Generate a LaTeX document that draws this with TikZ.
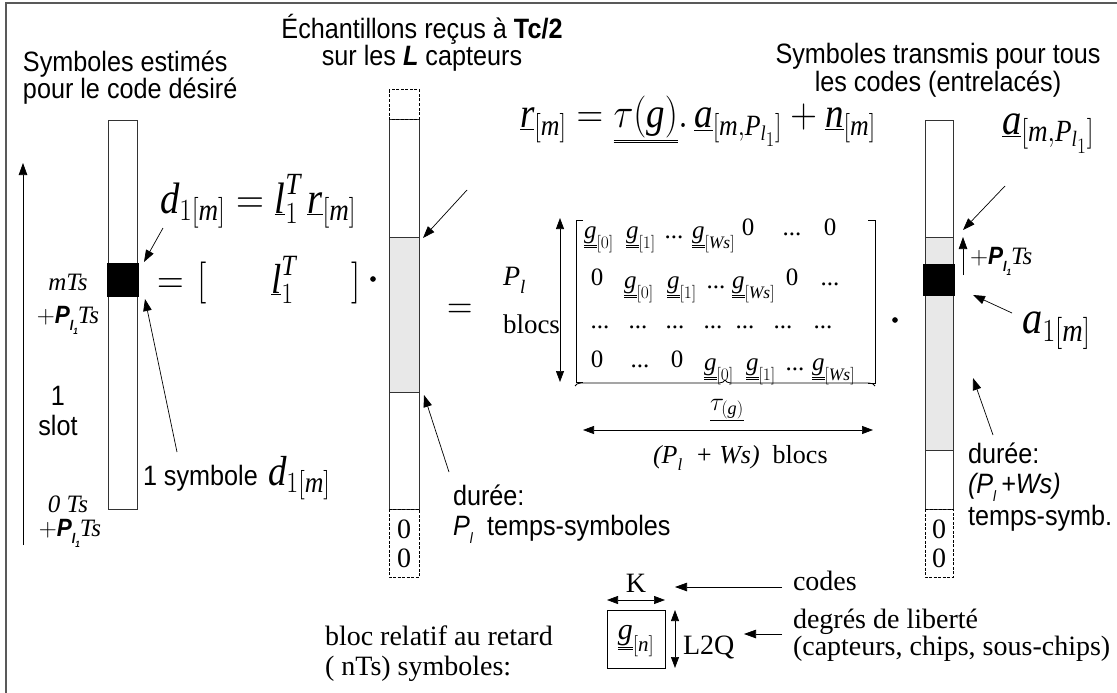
\RequirePackage{fix-cm}
\documentclass[tikz,border=0pt]{standalone}
\usepackage{fontspec}
\setmainfont{Liberation Serif}
\newfontfamily\sans[FakeStretch=0.9]{Liberation Sans}
\usepackage{graphicx}
\usetikzlibrary{arrows.meta,decorations.pathreplacing}
\newcommand{\fsz}[1]{\fontsize{#1}{#1}\selectfont}
\newcommand{\mi}[1]{\mathit{#1}}
\newcommand{\sq}[1]{\scalebox{0.88}[1]{#1}}
\newcommand{\gsub}[1]{$\underline{\underline{\mathit{g}}}_{[#1]}$}
\newcommand{\Plb}{{\sans\bfseries\itshape P\raisebox{-0.3em}{\fsz{14}l\raisebox{-0.25em}{\fsz{9}1}}}}
\tikzset{
  box/.style={line width=0.9pt, black!80},
  dbox/.style={line width=1pt, black, dash pattern=on 3pt off 1.5pt},
  gfill/.style={fill=black!9},
  arr/.style={-{Triangle[length=12pt,width=8.5pt]}, line width=0.7pt},
  darr/.style={{Triangle[length=11pt,width=8pt]}-{Triangle[length=11pt,width=8pt]}, line width=0.7pt},
  st/.style={font=\sans\fsz{28}},
  tm/.style={font=\fsz{28}},
  mx/.style={font=\fsz{25}, anchor=base},
  mxw/.style={font=\fsz{25}, anchor=base west},
}
\begin{document}
\begin{tikzpicture}[x=1pt,y=-1pt, every node/.style={inner sep=0pt, outer sep=0pt}]
\useasboundingbox (0,0) rectangle (1117,693);
\draw[line width=1.3pt, black!65] (6,700) -- (6,3) -- (1125,3);

% ---------- column 1
\draw[box] (108,120) rectangle (137,509);
\fill (107,263) rectangle (139,297);
% ---------- column 2
\fill[gfill] (389,237) rectangle (419,392);
\draw[box] (389,119) rectangle (419,509);
\draw[box] (389,237) -- (419,237) (389,392) -- (419,392);
\draw[dbox] (389,90) rectangle (419,119);
\draw[dbox] (389,509) rectangle (419,577);
\node[tm, anchor=base] (z1) at (404,538) {0};
\node[tm, anchor=base] (z2) at (404,567) {0};
% ---------- column 3
\fill[gfill] (925,237) rectangle (953,450);
\draw[box] (925,120) rectangle (953,509);
\draw[box] (925,237) -- (953,237) (925,450) -- (953,450);
\fill (923,264) rectangle (955,296);
\draw[dbox] (925,509) rectangle (953,577);
\node[tm, anchor=base] (z3) at (939,538) {0};
\node[tm, anchor=base] (z4) at (939,567) {0};

% ---------- titles (anchor = baseline of the last line)
\node[font=\sans\fontsize{28}{26}\selectfont, align=left, anchor=base west] (t1) at (23,99) {Symboles estimés\\pour le code désiré};
\node[font=\sans\fontsize{28}{24}\selectfont, align=center, anchor=base] (t2) at (422,66) {Échantillons reçus à \textbf{Tc/2}\\sur les \textbf{\textit{L}} capteurs};
\node[font=\sans\fontsize{28}{28}\selectfont, align=center, anchor=base] (t3) at (938,92) {Symboles transmis pour tous\\les codes (entrelacés)};

% ---------- left time axis
\coordinate (ax0) at (23,545);
\coordinate (ax1) at (23,163);
\draw[arr] (ax0) -- (ax1);
\node[font=\fsz{25}, anchor=base] (mts) at (68,290) {\textit{mTs}};
\node[font=\fsz{25}, anchor=base] (pl1) at (68,323) {$+$\Plb\textit{Ts}};
\node[st, anchor=base] (one) at (58,405) {1};
\node[st, anchor=base] (slot) at (58,435) {slot};
\node[font=\fsz{25}, anchor=base] (zts) at (68,512) {\textit{0 Ts}};
\node[font=\fsz{25}, anchor=base] (pl2) at (70,536) {$+$\Plb\textit{Ts}};

% ---------- equation 1
\node[anchor=base west] (eq1) at (160,213) {\sq{\fsz{44}$\mi{d}_{1[\mi{m}]} = \underline{\mi{l}}_1^{\mi{T}}\,\underline{\mi{r}}_{[\mi{m}]}$}};
\coordinate (e1a) at (163,228);
\coordinate (e1b) at (144,262);
\draw[arr] (e1a) -- (e1b);
\node[anchor=base west] (eqa) at (157,293) {\sq{\fsz{42}$=$}};
\node[anchor=base west] (brl) at (197,293) {\sq{\fsz{42}$[$}};
\node[anchor=base west] (lt) at (271,293) {\sq{\fsz{42}$\underline{\mi{l}}_1^{\mi{T}}$}};
\node[anchor=base west] (brr) at (351,293) {\sq{\fsz{42}$]$}};
\node[circle, fill, inner sep=2pt] (dot1) at (373,279) {};
\coordinate (s1a) at (177,452);
\coordinate (s1b) at (145,299);
\draw[arr] (s1a) -- (s1b);
\node[st, anchor=base west] (sym1) at (143,485) {1 symbole};
\node[anchor=base west] (dsym) at (268,485) {\sq{\fsz{42}$\mi{d}_{1[\mi{m}]}$}};

% ---------- column 2 annotations
\coordinate (c2a) at (467,190);
\coordinate (c2b) at (423,238);
\draw[arr] (c2a) -- (c2b);
\coordinate (c2c) at (449,472);
\coordinate (c2d) at (424,395);
\draw[arr] (c2c) -- (c2d);
\node[st, anchor=base west] (dur2) at (453,505) {durée:};
\node[st, anchor=base west] (pl2t) at (453,535) {\textit{P}\raisebox{-0.3em}{\fsz{15}\textit{l}}\ \ temps-symboles};

% ---------- equation 2
\node[anchor=base west] (eq2) at (520,128) {\sq{\fsz{42}$\underline{\mi{r}}_{[\mi{m}]} = \underline{\underline{\tau(\mi{g})}}.\,\underline{\mi{a}}_{[\mi{m},\mi{P}_{\mi{l}_1}]} + \underline{\mi{n}}_{[\mi{m}]}$}};
\node[anchor=base west] (eqb) at (447,318) {\sq{\fsz{40}$=$}};

% ---------- matrix
\node[font=\fsz{28}, anchor=base west] (plm) at (503,285) {\textit{P}\raisebox{-0.3em}{\fsz{19}\textit{l}}};
\node[font=\fsz{27}, anchor=base west] (blocs) at (503,333) {blocs};
\coordinate (va) at (560,218);
\coordinate (vb) at (560,382);
\draw[darr] (va) -- (vb);
\draw[line width=0.8pt] (583,220) -- (576,220) -- (576,382) -- (583,382);
\draw[line width=0.8pt] (868,220) -- (875,220) -- (875,383) -- (868,383);
% row 1
\node[mxw] (r1a) at (584,238) {\gsub{0}};
\node[mxw] (r1b) at (626,238) {\gsub{1}};
\node[mx] (r1c) at (674,238) {...};
\node[mxw] (r1d) at (692,238) {\gsub{\mi{Ws}}};
\node[mx] (r1e) at (748,235) {0};
\node[mx] (r1f) at (792,235) {...};
\node[mx] (r1g) at (830,235) {0};
% row 2
\node[mx] (r2a) at (597,285) {0};
\node[mxw] (r2b) at (624,288) {\gsub{0}};
\node[mxw] (r2c) at (667,288) {\gsub{1}};
\node[mx] (r2d) at (716,288) {...};
\node[mxw] (r2e) at (732,288) {\gsub{\mi{Ws}}};
\node[mx] (r2f) at (792,285) {0};
\node[mx] (r2g) at (830,285) {...};
% row 3
\foreach \x [count=\i] in {600,638,675,713,745,783,823}
  \node[mx] (r3\i) at (\x,328) {...};
% row 4
\node[mx] (r4a) at (597,367) {0};
\node[mx] (r4b) at (640,367) {...};
\node[mx] (r4c) at (677,367) {0};
\node[mxw] (r4d) at (704,370) {\gsub{0}};
\node[mxw] (r4e) at (746,370) {\gsub{1}};
\node[mx] (r4f) at (795,370) {...};
\node[mxw] (r4g) at (812,370) {\gsub{\mi{Ws}}};
% brace and width
\draw[line width=0.8pt, decorate, decoration={brace, amplitude=6pt}] (575,386) -- (875,386);
\node[anchor=base] (taug) at (727,410) {\fsz{26}$\underline{\tau_{(\mi{g})}}$};
\coordinate (ha) at (583,430);
\coordinate (hb) at (873,430);
\draw[darr] (ha) -- (hb);
\node[font=\fsz{26}, anchor=base west] (plws) at (653,463) {\textit{(P}\raisebox{-0.3em}{\fsz{17}\textit{l}}\textit{\ \ + Ws)}\ \ blocs};
\node[circle, fill, inner sep=2pt] (dot2) at (895,320) {};

% ---------- column 3 annotations
\node[anchor=base west] (am) at (1002,134) {\sq{\fsz{44}$\underline{\mi{a}}_{[\mi{m},\mi{P}_{\mi{l}_1}]}$}};
\coordinate (c3a) at (1005,186);
\coordinate (c3b) at (963,230);
\draw[arr] (c3a) -- (c3b);
\coordinate (up0) at (963,275);
\coordinate (up1) at (963,237);
\draw[arr] (up0) -- (up1);
\node[font=\fsz{25}, anchor=base west] (pl3) at (970,264) {$+$\Plb\textit{Ts}};
\node[anchor=base west] (a1m) at (1022,333) {\sq{\fsz{46}$\mi{a}_{1[\mi{m}]}$}};
\coordinate (c3c) at (1012,313);
\coordinate (c3d) at (973,295);
\draw[arr] (c3c) -- (c3d);
\coordinate (c3e) at (993,435);
\coordinate (c3f) at (973,378);
\draw[arr] (c3e) -- (c3f);
\node[st, anchor=base west] (dur3) at (968,463) {durée:};
\node[st, anchor=base west] (pw3) at (968,493) {\textit{(P}\raisebox{-0.3em}{\fsz{15}\textit{l}}\,\textit{+Ws)}};
\node[st, anchor=base west] (ts3) at (968,525) {temps-symb.};

% ---------- bottom legend
\node[tm, anchor=base west] (bl1) at (325,645) {bloc relatif au retard};
\node[tm, anchor=base west] (bl2) at (325,675) {( nTs) symboles:};
\node[draw, line width=0.8pt, minimum width=58pt, minimum height=58pt] (kbox) at (636,639) {};
\node[anchor=center] (gn) at (636,641) {\fsz{30}$\underline{\underline{\mi{g}}}_{[\mi{n}]}$};
\node[tm, anchor=base] (klab) at (636,592) {K};
\coordinate (ka) at (607,600);
\coordinate (kb) at (665,600);
\draw[darr] (ka) -- (kb);
\coordinate (la) at (675,610);
\coordinate (lb) at (675,668);
\draw[darr] (la) -- (lb);
\node[tm, anchor=base west] (l2q) at (683,654) {L2Q};
\node[tm, anchor=base west] (codes) at (793,590) {codes};
\node[tm, anchor=base west] (ddl) at (793,628) {degrés de liberté};
\node[tm, anchor=base west] (capt) at (793,655) {(capteurs, chips, sous-chips)};
\coordinate (ca) at (782,587);
\coordinate (cb) at (675,587);
\draw[arr] (ca) -- (cb);
\coordinate (da) at (782,634);
\coordinate (db) at (744,634);
\draw[arr] (da) -- (db);
\end{tikzpicture}
\end{document}
